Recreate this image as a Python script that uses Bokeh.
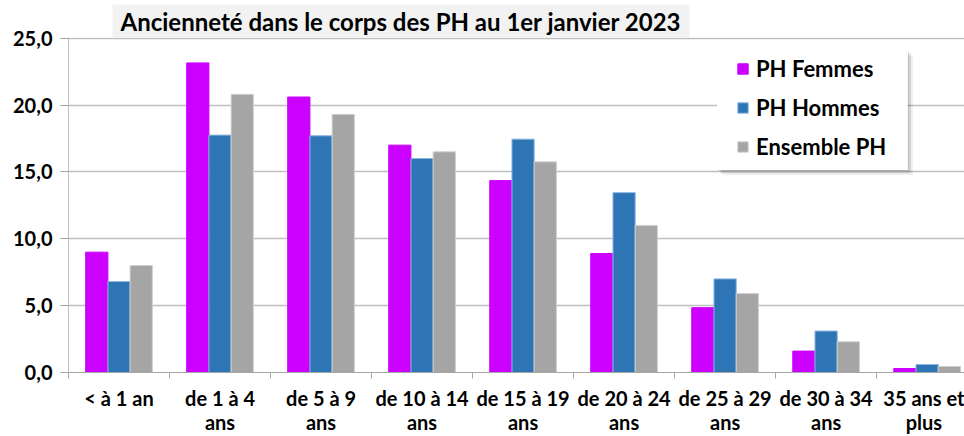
from bokeh.plotting import figure
from bokeh.models import Range1d, FixedTicker, BoxAnnotation, Legend, LegendItem, Title
from bokeh.embed import file_html
from bokeh.resources import INLINE

# ---- data ----
categories = ["< à 1 an", "de 1 à 4\nans", "de 5 à 9\nans", "de 10 à 14\nans",
              "de 15 à 19\nans", "de 20 à 24\nans", "de 25 à 29\nans",
              "de 30 à 34\nans", "35 ans et\nplus"]
femmes = [9.0, 23.15, 20.6, 17.0, 14.35, 8.9, 4.85, 1.6, 0.3]
hommes = [6.8, 17.75, 17.7, 16.0, 17.45, 13.45, 7.0, 3.1, 0.6]
ensemble = [8.0, 20.8, 19.3, 16.5, 15.75, 11.0, 5.9, 2.3, 0.45]
series_names = ["PH Femmes", "PH Hommes", "Ensemble PH"]
series_colors = ["#CC00FF", "#2E75B6", "#A5A5A5"]
series_edges = ["#CC00FF", "#8DB6E0", "#CFCFCF"]
y_ticks = [0, 5, 10, 15, 20, 25]
y_tick_labels = ["0,0", "5,0", "10,0", "15,0", "20,0", "25,0"]
title_text = "Ancienneté dans le corps des PH au 1er janvier 2023"

FONT = "Lato"

p = figure(width=964, height=436, output_backend="svg", toolbar_location=None,
           x_range=Range1d(0, 8.87), y_range=Range1d(0, 25.05),
           min_border_left=68, min_border_right=0, min_border_top=37, min_border_bottom=61)
p.outline_line_color = None
p.background_fill_color = "white"

p.title = Title(text=title_text, align="left", offset=44, standoff=0,
                text_font=FONT, text_font_style="bold", text_font_size="24px",
                text_color="black", background_fill_color="#f2f2f2",
                padding=dict(left=8, right=8, top=2, bottom=2))

n = len(categories)
centers = [i + 0.5 for i in range(n)]
bw = 0.22
renderers = []
for k, (vals, col, edge) in enumerate(zip([femmes, hommes, ensemble], series_colors, series_edges)):
    xs = [c + (k - 1) * bw for c in centers]
    r = p.vbar(x=xs, top=vals, bottom=0, width=bw, fill_color=col,
               line_color=edge, line_width=1)
    renderers.append(r)

# x axis
xa = p.xaxis[0]
xa.ticker = FixedTicker(ticks=centers, minor_ticks=list(range(n + 1)))
xa.major_label_overrides = {c: s for c, s in zip(centers, categories)}
xa.major_label_text_font = FONT
xa.major_label_text_font_style = "bold"
xa.major_label_text_font_size = "20px"
xa.major_label_text_color = "black"
xa.major_label_text_line_height = 1.0
xa.major_label_standoff = 7
xa.major_tick_line_color = None
xa.major_tick_out = 0
xa.major_tick_in = 0
xa.minor_tick_out = 6
xa.minor_tick_in = 0
xa.minor_tick_line_color = "#a6a6a6"
xa.axis_line_color = "#a6a6a6"
p.xgrid.visible = False

# y axis
ya = p.yaxis[0]
ya.ticker = FixedTicker(ticks=y_ticks)
ya.major_label_overrides = {t: s for t, s in zip(y_ticks, y_tick_labels)}
ya.major_label_text_font = FONT
ya.major_label_text_font_style = "bold"
ya.major_label_text_font_size = "20px"
ya.major_label_text_color = "black"
ya.major_tick_out = 8
ya.major_tick_in = 0
ya.major_tick_line_color = "#a6a6a6"
ya.minor_tick_line_color = None
ya.axis_line_color = "#bfbfbf"
ya.major_label_standoff = 8
p.ygrid.grid_line_color = "#bfbfbf"
p.ygrid.grid_line_width = 1.3

# legend box with shadow
for off, a in [(5, 0.07), (3, 0.10), (1, 0.12)]:
    dx = off / 101.0
    dy = off / 13.41
    p.add_layout(BoxAnnotation(left=6.42 + dx, right=8.31 + dx, bottom=15.14 - dy, top=24.08 - dy,
                               fill_color="black", fill_alpha=a, line_color=None))
p.add_layout(BoxAnnotation(left=6.42, right=8.31, bottom=15.14, top=24.08,
                           fill_color="white", fill_alpha=1.0, line_color=None))

legend = Legend(items=[LegendItem(label=nm, renderers=[r]) for nm, r in zip(series_names, renderers)],
                location=(668, 212), orientation="vertical",
                background_fill_alpha=0, border_line_color=None, padding=0, margin=0,
                glyph_width=13, glyph_height=13, label_height=24, spacing=12,
                label_standoff=7, label_text_font=FONT, label_text_font_style="bold",
                label_text_font_size="22px", label_text_color="black")
p.add_layout(legend, "center")

open("out.html", "w").write(file_html(p, INLINE))
